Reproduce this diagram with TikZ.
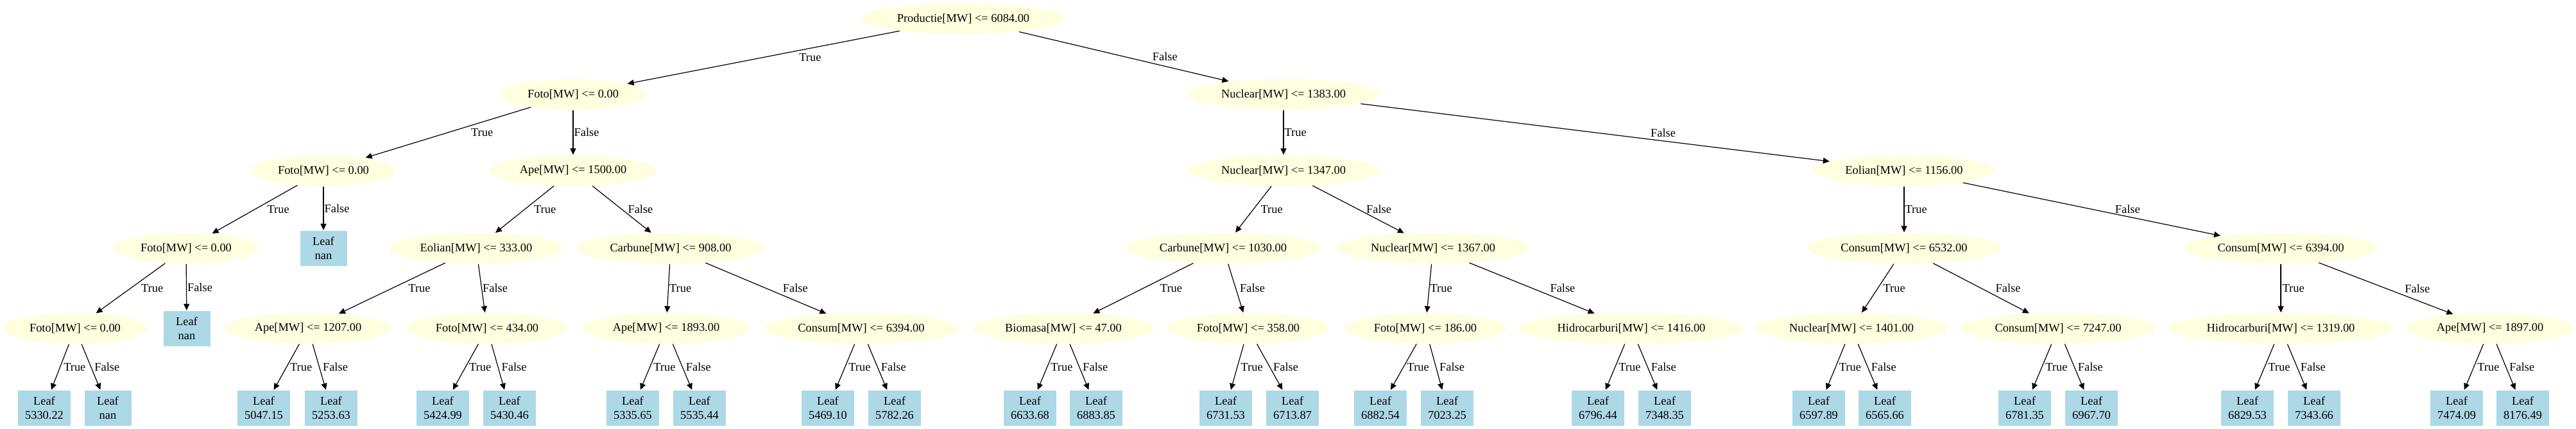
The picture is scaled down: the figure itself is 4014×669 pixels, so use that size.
\documentclass[tikz,border=0pt]{standalone}
\usepackage{fontspec}
\setmainfont{Liberation Serif}
\usetikzlibrary{arrows.meta,shapes.geometric}
\definecolor{condfill}{HTML}{FFFFE0}
\definecolor{leaffill}{HTML}{ADD8E6}

\begin{document}
\begin{tikzpicture}[x=0.5pt, y=-0.5pt, line width=0.6pt, >={Triangle[length=5pt,width=4.5pt]},
	every node/.style={font=\fontsize{9.2}{11}\selectfont},
	cond/.style={ellipse, fill=condfill, inner xsep=4.5pt, inner ysep=2pt, minimum height=24pt},
	leaf/.style={rectangle, fill=leaffill, align=center, inner xsep=5.5pt, minimum width=36.5pt, minimum height=27.5pt},
	lbl/.style={anchor=west, inner sep=0pt, xshift=#1}, lbl/.default=2.5pt]
	\useasboundingbox (0,0) rectangle (4014,669);
	
	% Splits
	\node[cond] (root) at (1501,29) {Productie[MW] <= 6084.00};
	\node[cond] (t) at (893,147) {Foto[MW] <= 0.00};
	\node[cond] (f) at (2000,147) {Nuclear[MW] <= 1383.00};
	\node[cond] (tt) at (504,266) {Foto[MW] <= 0.00};
	\node[cond] (tf) at (893,266) {Ape[MW] <= 1500.00};
	\node[cond] (ft) at (2000,266) {Nuclear[MW] <= 1347.00};
	\node[cond] (ff) at (2967,266) {Eolian[MW] <= 1156.00};
	\node[cond] (ttt) at (290,387) {Foto[MW] <= 0.00};
	\node[leaf] (ttf) at (504,387) {Leaf\\nan};
	\node[cond] (tft) at (742,387) {Eolian[MW] <= 333.00};
	\node[cond] (tff) at (1045,387) {Carbune[MW] <= 908.00};
	\node[cond] (ftt) at (1906,387) {Carbune[MW] <= 1030.00};
	\node[cond] (ftf) at (2233,387) {Nuclear[MW] <= 1367.00};
	\node[cond] (fft) at (2967,387) {Consum[MW] <= 6532.00};
	\node[cond] (fff) at (3554,387) {Consum[MW] <= 6394.00};
	\node[cond] (tttt) at (117,512) {Foto[MW] <= 0.00};
	\node[leaf] (tttf) at (291,512) {Leaf\\nan};
	\node[cond] (tftt) at (480,512) {Ape[MW] <= 1207.00};
	\node[cond] (tftf) at (759,512) {Foto[MW] <= 434.00};
	\node[cond] (tfft) at (1038,512) {Ape[MW] <= 1893.00};
	\node[cond] (tfff) at (1342,512) {Consum[MW] <= 6394.00};
	\node[cond] (fttt) at (1657,512) {Biomasa[MW] <= 47.00};
	\node[cond] (fttf) at (1945,512) {Foto[MW] <= 358.00};
	\node[cond] (ftft) at (2221,512) {Foto[MW] <= 186.00};
	\node[cond] (ftff) at (2542,512) {Hidrocarburi[MW] <= 1416.00};
	\node[cond] (fftt) at (2885,512) {Nuclear[MW] <= 1401.00};
	\node[cond] (fftf) at (3207,512) {Consum[MW] <= 7247.00};
	\node[cond] (ffft) at (3554,512) {Hidrocarburi[MW] <= 1319.00};
	\node[cond] (ffff) at (3880,512) {Ape[MW] <= 1897.00};
	
	% Leaves
	\node[leaf] (ttttt) at (69,636) {Leaf\\5330.22};
	\node[leaf] (ttttf) at (168,636) {Leaf\\nan};
	\node[leaf] (tfttt) at (411,636) {Leaf\\5047.15};
	\node[leaf] (tfttf) at (516,636) {Leaf\\5253.63};
	\node[leaf] (tftft) at (690,636) {Leaf\\5424.99};
	\node[leaf] (tftff) at (794,636) {Leaf\\5430.46};
	\node[leaf] (tfftt) at (986,636) {Leaf\\5335.65};
	\node[leaf] (tfftf) at (1090,636) {Leaf\\5535.44};
	\node[leaf] (tffft) at (1290,636) {Leaf\\5469.10};
	\node[leaf] (tffff) at (1394,636) {Leaf\\5782.26};
	\node[leaf] (ftttt) at (1605,636) {Leaf\\6633.68};
	\node[leaf] (ftttf) at (1708,636) {Leaf\\6883.85};
	\node[leaf] (fttft) at (1910,636) {Leaf\\6731.53};
	\node[leaf] (fttff) at (2014,636) {Leaf\\6713.87};
	\node[leaf] (ftftt) at (2151,636) {Leaf\\6882.54};
	\node[leaf] (ftftf) at (2255,636) {Leaf\\7023.25};
	\node[leaf] (ftfft) at (2490,636) {Leaf\\6796.44};
	\node[leaf] (ftfff) at (2594,636) {Leaf\\7348.35};
	\node[leaf] (ffttt) at (2834,636) {Leaf\\6597.89};
	\node[leaf] (ffttf) at (2937,636) {Leaf\\6565.66};
	\node[leaf] (fftft) at (3155,636) {Leaf\\6781.35};
	\node[leaf] (fftff) at (3259,636) {Leaf\\6967.70};
	\node[leaf] (ffftt) at (3502,636) {Leaf\\6829.53};
	\node[leaf] (ffftf) at (3606,636) {Leaf\\7343.66};
	\node[leaf] (fffft) at (3828,636) {Leaf\\7474.09};
	\node[leaf] (fffff) at (3931,636) {Leaf\\8176.49};
	
	% Arrows
	\draw[->] (root) -- node[lbl=27.5pt] {True} (t);
	\draw[->] (root) -- node[lbl=22pt] {False} (f);
	\draw[->] (t) -- node[lbl=17.5pt] {True} (tt);
	\draw[->] (t) -- node[lbl=0.5pt] {False} (tf);
	\draw[->] (f) -- node[lbl=0.5pt] {True} (ft);
	\draw[->] (f) -- node[lbl=43pt] {False} (ff);
	\draw[->] (tt) -- node[lbl=9.5pt] {True} (ttt);
	\draw[->] (tt) -- node[lbl=0.5pt] {False} (ttf);
	\draw[->] (tf) -- node[lbl=7pt] {True} (tft);
	\draw[->] (tf) -- node[lbl=4.5pt] {False} (tff);
	\draw[->] (ft) -- node[lbl=5.5pt] {True} (ftt);
	\draw[->] (ft) -- node[lbl=6pt] {False} (ftf);
	\draw[->] (ff) -- node[lbl=0.5pt] {True} (fft);
	\draw[->] (ff) -- node[lbl=18pt] {False} (fff);
	\draw[->] (ttt) -- node[lbl=8pt] {True} (tttt);
	\draw[->] (ttt) -- node[lbl=0.5pt] {False} (tttf);
	\draw[->] (tft) -- node[lbl=12.5pt] {True} (tftt);
	\draw[->] (tft) -- node[lbl=0.5pt] {False} (tftf);
	\draw[->] (tff) -- node[lbl=0.5pt] {True} (tfft);
	\draw[->] (tff) -- node[lbl=13pt] {False} (tfff);
	\draw[->] (ftt) -- node[lbl=13pt] {True} (fttt);
	\draw[->] (ftt) -- node[lbl=3pt] {False} (fttf);
	\draw[->] (ftf) -- node[lbl=0.5pt] {True} (ftft);
	\draw[->] (ftf) -- node[lbl=14pt] {False} (ftff);
	\draw[->] (fft) -- node[lbl=4pt] {True} (fftt);
	\draw[->] (fft) -- node[lbl=11pt] {False} (fftf);
	\draw[->] (fff) -- node[lbl=1pt] {True} (ffft);
	\draw[->] (fff) -- node[lbl=14.5pt] {False} (ffff);
	\draw[->] (tttt) -- node[lbl] {True} (ttttt);
	\draw[->] (tttt) -- node[lbl] {False} (ttttf);
	\draw[->] (tftt) -- node[lbl] {True} (tfttt);
	\draw[->] (tftt) -- node[lbl] {False} (tfttf);
	\draw[->] (tftf) -- node[lbl] {True} (tftft);
	\draw[->] (tftf) -- node[lbl] {False} (tftff);
	\draw[->] (tfft) -- node[lbl] {True} (tfftt);
	\draw[->] (tfft) -- node[lbl] {False} (tfftf);
	\draw[->] (tfff) -- node[lbl] {True} (tffft);
	\draw[->] (tfff) -- node[lbl] {False} (tffff);
	\draw[->] (fttt) -- node[lbl] {True} (ftttt);
	\draw[->] (fttt) -- node[lbl] {False} (ftttf);
	\draw[->] (fttf) -- node[lbl] {True} (fttft);
	\draw[->] (fttf) -- node[lbl] {False} (fttff);
	\draw[->] (ftft) -- node[lbl] {True} (ftftt);
	\draw[->] (ftft) -- node[lbl] {False} (ftftf);
	\draw[->] (ftff) -- node[lbl] {True} (ftfft);
	\draw[->] (ftff) -- node[lbl] {False} (ftfff);
	\draw[->] (fftt) -- node[lbl] {True} (ffttt);
	\draw[->] (fftt) -- node[lbl] {False} (ffttf);
	\draw[->] (fftf) -- node[lbl] {True} (fftft);
	\draw[->] (fftf) -- node[lbl] {False} (fftff);
	\draw[->] (ffft) -- node[lbl] {True} (ffftt);
	\draw[->] (ffft) -- node[lbl] {False} (ffftf);
	\draw[->] (ffff) -- node[lbl] {True} (fffft);
	\draw[->] (ffff) -- node[lbl] {False} (fffff);
\end{tikzpicture}
\end{document}
